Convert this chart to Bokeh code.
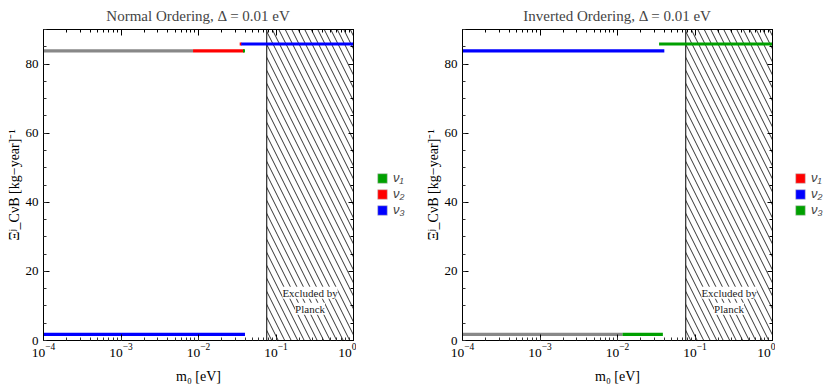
from bokeh.plotting import figure
from bokeh.models import (LogAxis, LinearAxis, LogTicker, SingleIntervalTicker,
                          Legend, LegendItem, Range1d, ColumnDataSource, Label,
                          CustomJSTickFormatter)
from bokeh.layouts import row
from bokeh.embed import file_html
from bokeh.resources import INLINE

# ---------------- data ----------------
titles = ["Normal Ordering, Δ = 0.01 eV", "Inverted Ordering, Δ = 0.01 eV"]
legend_labels = ["ν₁", "ν₂", "ν₃"]
no_legend_colors = ["#00a000", "#ff0000", "#0000ff"]
io_legend_colors = ["#ff0000", "#0000ff", "#00a000"]

planck_m0 = 0.076          # eV, start of Planck-excluded region
x_min, x_max = 1e-4, 1.0
y_min, y_max = 0, 90

# Normal ordering segments (x start, x end, y, colour)
no_x0 = [1e-4, 0.0085, 0.0375, 0.0340, 0.0356, 1e-4]
no_x1 = [0.0085, 0.0387, 0.0398, 0.0362, 1.0, 0.0398]
no_y = [83.8, 83.8, 83.8, 85.8, 85.8, 1.8]
no_c = ["#888888", "#ff0000", "#00a000", "#ff0000", "#0000ff", "#0000ff"]

# Inverted ordering segments
io_x0 = [1e-4, 0.0344, 1e-4, 0.0116]
io_x1 = [0.0402, 1.0, 0.0116, 0.0385]
io_y = [83.8, 85.8, 1.8, 1.8]
io_c = ["#0000ff", "#00a000", "#888888", "#00a000"]

SERIF = "Liberation Serif"
FIG_H = 388


def make_panel(title, x0, x1, yv, cols):
    p = figure(frame_width=310, frame_height=311, x_axis_type="log",
               x_range=Range1d(x_min, x_max), y_range=Range1d(y_min, y_max),
               output_backend="svg", toolbar_location=None,
               min_border_left=43, min_border_right=3,
               min_border_top=29, min_border_bottom=47)
    p.title.text = title
    p.title.align = "center"
    p.title.text_font = SERIF
    p.title.text_font_style = "normal"
    p.title.text_font_size = "15px"
    p.title.standoff = 11
    p.xgrid.visible = False
    p.ygrid.visible = False
    p.outline_line_color = "black"

    xt = LogTicker(num_minor_ticks=10)
    yt = SingleIntervalTicker(interval=20, num_minor_ticks=4)
    p.xaxis[0].ticker = xt
    p.yaxis[0].ticker = yt

    # hatched exclusion region
    hs = ColumnDataSource(dict(l=[planck_m0], r=[x_max], b=[y_min], t=[y_max]))
    p.quad(left="l", right="r", bottom="b", top="t", source=hs,
           fill_color=None, line_color="black", line_width=1,
           hatch_pattern="\\", hatch_color="black", hatch_scale=13,
           hatch_weight=0.8)

    src = ColumnDataSource(dict(x0=x0, x1=x1, y=yv, c=cols))
    p.segment(x0="x0", y0="y", x1="x1", y1="y", source=src,
              line_color="c", line_width=3.2)

    for txt, yy in [("Excluded by", 13.8), ("Planck", 9.2)]:
        p.add_layout(Label(x=0.275, y=yy, text=txt, text_align="center",
                           text_baseline="middle", text_font=SERIF,
                           text_font_size="11px", text_color="#222222",
                           background_fill_color="white",
                           background_fill_alpha=1.0))

    # axes styling
    for ax in [p.xaxis[0], p.yaxis[0]]:
        ax.major_tick_in = 6
        ax.major_tick_out = 0
        ax.minor_tick_in = 3
        ax.minor_tick_out = 0
        ax.axis_line_color = "black"
        ax.major_tick_line_color = "black"
        ax.minor_tick_line_color = "#333333"
        ax.major_label_text_font = SERIF
        ax.major_label_text_font_size = "13.5px"
        ax.major_label_text_color = "black"
        ax.axis_label_text_font = SERIF
        ax.axis_label_text_font_style = "normal"
        ax.axis_label_text_font_size = "14px"
        ax.axis_label_text_color = "black"
    p.yaxis[0].major_label_text_font_size = "13px"
    p.xaxis[0].major_label_standoff = 3
    p.yaxis[0].major_label_standoff = 5
    p.xaxis[0].axis_label = "m₀ [eV]"
    p.xaxis[0].axis_label_standoff = 9
    p.yaxis[0].axis_label = "Ξʲ_CνB [kg−year]⁻¹"
    p.yaxis[0].axis_label_standoff = 1

    top = LogAxis(ticker=xt, formatter=CustomJSTickFormatter(code="return ''"),
                  major_label_standoff=0, major_tick_in=6, major_tick_out=0,
                  minor_tick_in=3, minor_tick_out=0, axis_line_color="black")
    right = LinearAxis(ticker=yt, formatter=CustomJSTickFormatter(code="return ''"),
                       major_label_standoff=0, major_tick_in=5,
                       major_tick_out=0, minor_tick_in=3, minor_tick_out=0,
                       axis_line_color="black")
    p.add_layout(top, "above")
    p.add_layout(right, "right")
    return p


def make_legend(colors, width, x_off):
    f = figure(width=width, height=FIG_H, x_range=Range1d(0, 1),
               y_range=Range1d(0, 1), output_backend="svg",
               toolbar_location=None, min_border=0,
               x_axis_location=None, y_axis_location=None)
    f.grid.visible = False
    f.outline_line_color = None
    items = []
    for lab, col in zip(legend_labels, colors):
        r = f.quad(left=[0], right=[0], bottom=[0], top=[0], fill_color=col,
                   line_color="#c8c8c8", line_width=0.6, fill_alpha=1.0)
        items.append(LegendItem(label=lab, renderers=[r]))
    # legend frame is aligned with the neighbouring plot frame
    leg = Legend(items=items, location=(x_off, 124), padding=0, margin=0,
                 border_line_color=None, background_fill_alpha=0,
                 glyph_width=12, glyph_height=12, label_height=12,
                 spacing=1, label_standoff=5,
                 label_text_font="Liberation Sans",
                 label_text_font_style="italic",
                 label_text_font_size="13px")
    f.add_layout(leg, "center")
    return f


p1 = make_panel(titles[0], no_x0, no_x1, no_y, no_c)
l1 = make_legend(no_legend_colors, 63, 20)
p2 = make_panel(titles[1], io_x0, io_x1, io_y, io_c)
l2 = make_legend(io_legend_colors, 52, 19)
layout = row(p1, l1, p2, l2)

open("out.html", "w").write(file_html(layout, INLINE))
